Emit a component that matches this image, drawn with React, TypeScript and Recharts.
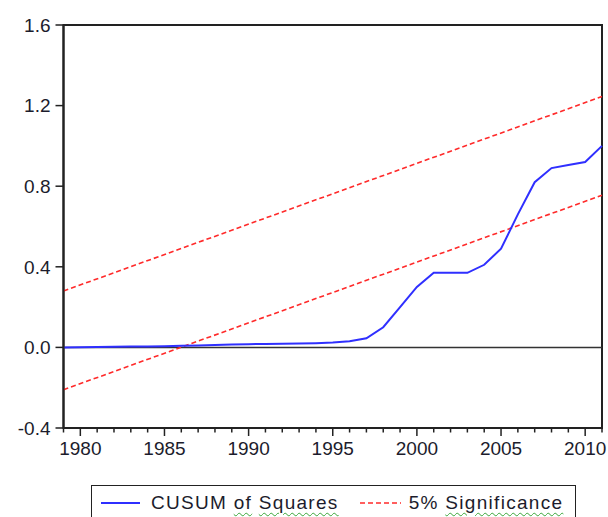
import { Legend, Line, LineChart, ReferenceArea, ReferenceLine, XAxis, YAxis } from "recharts";

// Literal colours.
const BLUE = "#2f2fff";
const RED = "#ff2a2a";
const INK = "#1c1c2c";
const FRAME = "#222222";
const FONT = "'Liberation Sans', Arial, sans-serif";

const YEARS = [
  1979, 1980, 1981, 1982, 1983, 1984, 1985, 1986, 1987, 1988, 1989, 1990, 1991, 1992, 1993, 1994,
  1995, 1996, 1997, 1998, 1999, 2000, 2001, 2002, 2003, 2004, 2005, 2006, 2007, 2008, 2009, 2010,
  2011,
];
const CUSUMSQ = [
  0.0, 0.001, 0.002, 0.003, 0.004, 0.005, 0.006, 0.008, 0.01, 0.012, 0.014, 0.016, 0.017, 0.018,
  0.019, 0.021, 0.024, 0.03, 0.045, 0.1, 0.2, 0.3, 0.37, 0.37, 0.37, 0.41, 0.49, 0.66, 0.82, 0.89,
  0.905, 0.92, 1.0,
];

// 5% significance bands are straight lines, so only their end points are needed.
const BAND_YEARS = [1979, 2011];
const UPPER = [0.28, 1.245];
const LOWER = [-0.21, 0.755];

const Y_TICKS = [-0.4, 0.0, 0.4, 0.8, 1.2, 1.6];

const cusumData = YEARS.map((year, i) => ({ year, value: CUSUMSQ[i] }));
const upperData = BAND_YEARS.map((year, i) => ({ year, value: UPPER[i] }));
const lowerData = BAND_YEARS.map((year, i) => ({ year, value: LOWER[i] }));

function YearTick({ x, y, payload }: { x: number; y: number; payload: { value: number } }) {
  const major = payload.value % 5 === 0;
  return (
    <g>
      <line x1={x} x2={x} y1={y} y2={y + (major ? 8 : 4.5)} stroke={FRAME} strokeWidth={1.5} />
      {major && (
        <text x={x} y={y + 27} textAnchor="middle" fontSize={19} fontFamily={FONT} fill={INK}>
          {payload.value}
        </text>
      )}
    </g>
  );
}

const squiggle = {
  textDecoration: "underline wavy #3aa63a",
  textUnderlineOffset: 3,
  textDecorationThickness: 1,
} as const;

function LegendBox() {
  return (
    <div
      style={{
        boxSizing: "border-box",
        width: 485,
        height: 44,
        border: `1.5px solid ${FRAME}`,
        background: "#fff",
        display: "flex",
        alignItems: "flex-start",
        paddingTop: 6,
        fontFamily: FONT,
        fontSize: 19,
        letterSpacing: 1.3,
        color: INK,
        whiteSpace: "nowrap",
      }}
    >
      <svg width={48} height={22} style={{ marginLeft: 8 }}>
        <line x1={1} x2={40} y1={11} y2={11} stroke={BLUE} strokeWidth={2} />
      </svg>
      <span style={{ marginLeft: 3 }}>
        CUSUM <span style={squiggle}>of</span> <span style={squiggle}>Squares</span>
      </span>
      <svg width={46} height={22} style={{ marginLeft: 20 }}>
        <line x1={1} x2={42} y1={11} y2={11} stroke={RED} strokeWidth={1.6} strokeDasharray="5 3" />
      </svg>
      <span style={{ marginLeft: 4 }}>
        5% <span style={squiggle}>Significance</span>
      </span>
    </div>
  );
}

export default function App() {
  return (
    <div style={{ position: "absolute", left: 0, top: 0, width: 608, height: 517, overflow: "hidden", background: "#fff" }}>
      <LineChart width={608} height={517} margin={{ top: 25, right: 6, bottom: 0, left: 0 }}>
        <XAxis
          dataKey="year"
          type="number"
          domain={[1979, 2011]}
          ticks={YEARS}
          interval={0}
          allowDuplicatedCategory={false}
          tickSize={0}
          tickMargin={0}
          tick={YearTick}
          axisLine={{ stroke: FRAME, strokeWidth: 2 }}
          height={45}
        />
        <YAxis
          type="number"
          domain={[-0.4, 1.6]}
          ticks={Y_TICKS}
          interval={0}
          width={63.5}
          tickSize={8}
          tickMargin={5}
          tickLine={{ stroke: FRAME, strokeWidth: 1.5 }}
          axisLine={{ stroke: FRAME, strokeWidth: 2 }}
          tick={{ fontSize: 19, fontFamily: FONT, fill: INK }}
          tickFormatter={(v: number) => v.toFixed(1)}
        />
        <ReferenceArea x1={1979} x2={2011} y1={-0.4} y2={1.6} fill="none" stroke={FRAME} strokeWidth={2} />
        <ReferenceLine y={0} stroke="#333" strokeWidth={1.5} />
        <Line
          data={upperData}
          dataKey="value"
          name="upper"
          type="linear"
          stroke={RED}
          strokeWidth={1.6}
          strokeDasharray="5 3"
          dot={false}
          legendType="none"
          isAnimationActive={false}
        />
        <Line
          data={lowerData}
          dataKey="value"
          name="lower"
          type="linear"
          stroke={RED}
          strokeWidth={1.6}
          strokeDasharray="5 3"
          dot={false}
          legendType="none"
          isAnimationActive={false}
        />
        <Line
          data={cusumData}
          dataKey="value"
          name="CUSUM of Squares"
          type="linear"
          stroke={BLUE}
          strokeWidth={2}
          dot={false}
          isAnimationActive={false}
        />
        <Legend content={LegendBox} wrapperStyle={{ position: "absolute", left: 91, top: 485, width: 485, height: 44 }} />
      </LineChart>
    </div>
  );
}
